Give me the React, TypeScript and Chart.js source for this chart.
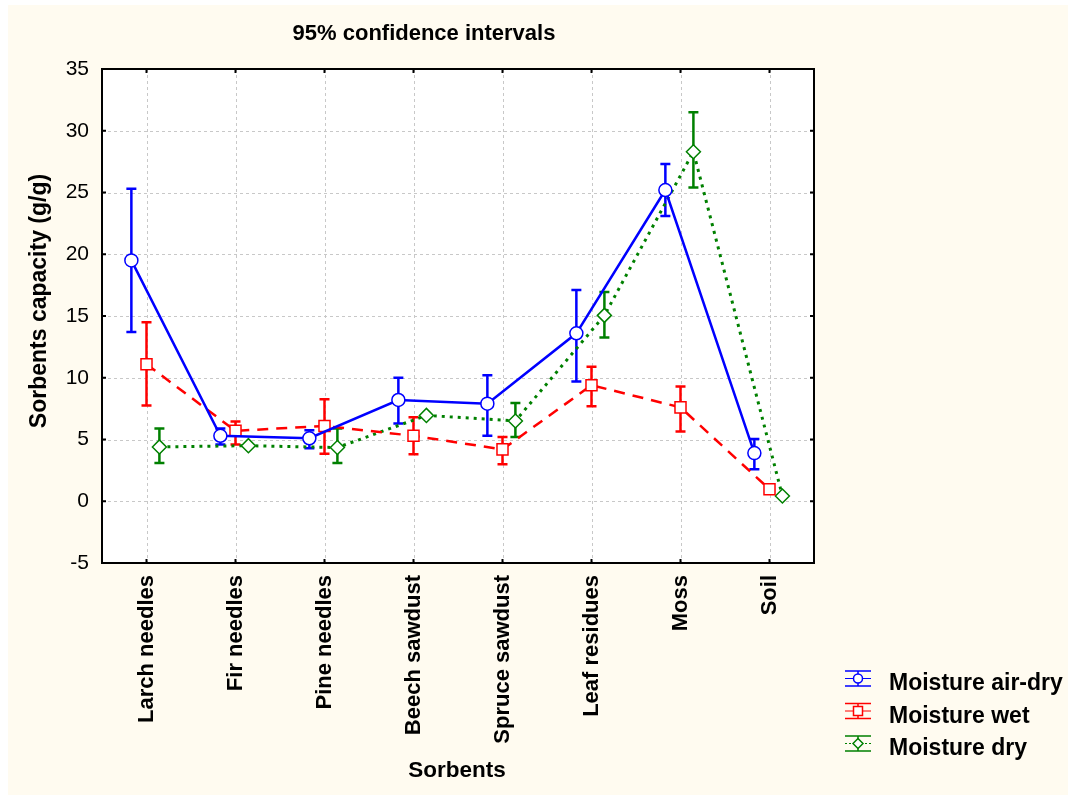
import React, { useEffect, useRef } from "react";
import { Chart, registerables } from "chart.js";

Chart.register(...registerables);

const categories = [
  "Larch needles",
  "Fir needles",
  "Pine needles",
  "Beech sawdust",
  "Spruce sawdust",
  "Leaf residues",
  "Moss",
  "Soil",
];
const seriesNames = ["Moisture air-dry", "Moisture wet", "Moisture dry"];

const airDryMean = [19.5, 5.3, 5.1, 8.2, 7.9, 13.6, 25.2, 3.9];
const airDryLow = [13.7, 4.6, 4.3, 6.3, 5.3, 9.7, 23.1, 2.6];
const airDryHigh = [25.3, 5.9, 5.75, 10.0, 10.2, 17.1, 27.3, 5.05];

const wetMean = [11.1, 5.7, 6.1, 5.3, 4.2, 9.4, 7.6, 0.97];
const wetLow = [7.75, 4.6, 3.85, 3.8, 3.0, 7.7, 5.65, null];
const wetHigh = [14.5, 6.45, 8.25, 6.8, 5.2, 10.9, 9.3, null];

const dryMean = [4.4, 4.5, 4.35, 6.95, 6.5, 15.05, 28.3, 0.43];
const dryLow = [3.1, null, 3.1, null, 5.2, 13.25, 25.4, null];
const dryHigh = [5.9, null, 5.9, null, 7.95, 16.95, 31.5, null];

const yMin = -5;
const yMax = 35;
const yStep = 5;

const seriesOffsets = [-0.17, 0, 0.145];
const colors = ["#0000FF", "#FF0000", "#008000"];
const dashes = [[], [11, 8], [3, 5]];
const pointStyles = ["circle", "rect", "rectRot"];
const pointRadii = [6.5, 7.8, 7];

const CREAM = "#FFFBF0";
const FONT = "'Liberation Sans', Arial, sans-serif";

const means = [airDryMean, wetMean, dryMean];
const lows = [airDryLow, wetLow, dryLow];
const highs = [airDryHigh, wetHigh, dryHigh];

export default function App() {
  const canvasRef = useRef<HTMLCanvasElement | null>(null);

  useEffect(() => {
    const canvas = canvasRef.current;
    if (!canvas) return;

    const datasets = means.map((m, s) => ({
      label: seriesNames[s],
      data: m.map((v, i) => ({ x: i + seriesOffsets[s], y: v })),
      borderColor: colors[s],
      backgroundColor: "#FFFFFF",
      borderWidth: s === 2 ? 3 : 2.5,
      borderDash: dashes[s],
      pointStyle: pointStyles[s],
      pointRadius: pointRadii[s],
      pointBorderWidth: 1.5,
      pointBorderColor: colors[s],
      pointBackgroundColor: "#FFFFFF",
      tension: 0,
      clip: false as any,
    }));

    const customPlugin = {
      id: "customDecor",
      beforeDraw(chart: any) {
        const { ctx, width, height, chartArea: a } = chart;
        ctx.save();
        ctx.fillStyle = CREAM;
        ctx.fillRect(0, 0, width, height);
        ctx.fillStyle = "#FFFFFF";
        ctx.fillRect(a.left, a.top, a.right - a.left, a.bottom - a.top);
        const xs = chart.scales.x;
        const ys = chart.scales.y;
        ctx.strokeStyle = "#C8C8C8";
        ctx.lineWidth = 1;
        ctx.setLineDash([3, 3]);
        for (let v = yMin + yStep; v < yMax; v += yStep) {
          const y = Math.round(ys.getPixelForValue(v)) + 0.5;
          ctx.beginPath();
          ctx.moveTo(a.left, y);
          ctx.lineTo(a.right, y);
          ctx.stroke();
        }
        categories.forEach((_, i) => {
          const x = Math.round(xs.getPixelForValue(i)) + 0.5;
          ctx.beginPath();
          ctx.moveTo(x, a.top);
          ctx.lineTo(x, a.bottom);
          ctx.stroke();
        });
        ctx.restore();
      },
      beforeDatasetsDraw(chart: any) {
        const { ctx } = chart;
        const xs = chart.scales.x;
        const ys = chart.scales.y;
        ctx.save();
        ctx.setLineDash([]);
        ctx.lineWidth = 2.5;
        means.forEach((m, s) => {
          ctx.strokeStyle = colors[s];
          m.forEach((_, i) => {
            const lo = lows[s][i];
            const hi = highs[s][i];
            if (lo == null || hi == null) return;
            const x = xs.getPixelForValue(i + seriesOffsets[s]);
            const y1 = ys.getPixelForValue(lo);
            const y2 = ys.getPixelForValue(hi);
            ctx.beginPath();
            ctx.moveTo(x, y1);
            ctx.lineTo(x, y2);
            ctx.moveTo(x - 5, y1);
            ctx.lineTo(x + 5, y1);
            ctx.moveTo(x - 5, y2);
            ctx.lineTo(x + 5, y2);
            ctx.stroke();
          });
        });
        ctx.restore();
      },
      afterDraw(chart: any) {
        const { ctx, chartArea: a } = chart;
        const xs = chart.scales.x;
        const ys = chart.scales.y;
        ctx.save();
        ctx.setLineDash([]);
        ctx.strokeStyle = "#000000";
        ctx.lineWidth = 2;
        ctx.strokeRect(a.left, a.top, a.right - a.left, a.bottom - a.top);
        for (let v = yMin; v <= yMax; v += yStep) {
          const y = ys.getPixelForValue(v);
          ctx.beginPath();
          ctx.moveTo(a.left, y);
          ctx.lineTo(a.left + 4, y);
          ctx.moveTo(a.right, y);
          ctx.lineTo(a.right - 4, y);
          ctx.stroke();
        }
        categories.forEach((_, i) => {
          const x = xs.getPixelForValue(i);
          ctx.beginPath();
          ctx.moveTo(x, a.top);
          ctx.lineTo(x, a.top + 4);
          ctx.moveTo(x, a.bottom);
          ctx.lineTo(x, a.bottom - 4);
          ctx.stroke();
        });

        ctx.fillStyle = "#000000";
        ctx.font = `bold 22px ${FONT}`;
        ctx.textAlign = "center";
        ctx.textBaseline = "middle";
        ctx.fillText("95% confidence intervals", 416, 29);

        ctx.font = `bold 22.5px ${FONT}`;
        ctx.fillText("Sorbents", 449, 766);

        ctx.save();
        ctx.translate(32, 296);
        ctx.rotate(-Math.PI / 2);
        ctx.font = `bold 23px ${FONT}`;
        ctx.fillText("Sorbents capacity (g/g)", 0, 0);
        ctx.restore();

        seriesNames.forEach((name, s) => {
          const cy = 679 + s * 32.5;
          const iy = cy - 5.5;
          const x0 = 837;
          const x1 = 863;
          const xc = (x0 + x1) / 2;
          ctx.strokeStyle = colors[s];
          ctx.lineWidth = 1.5;
          ctx.setLineDash([]);
          ctx.beginPath();
          ctx.moveTo(x0, iy - 7.5);
          ctx.lineTo(x1, iy - 7.5);
          ctx.moveTo(x0, iy + 7.5);
          ctx.lineTo(x1, iy + 7.5);
          ctx.moveTo(xc, iy - 7.5);
          ctx.lineTo(xc, iy + 7.5);
          ctx.stroke();
          ctx.lineWidth = 1;
          ctx.setLineDash(s === 2 ? [2, 2] : []);
          ctx.beginPath();
          ctx.moveTo(x0, iy);
          ctx.lineTo(x1, iy);
          ctx.stroke();
          ctx.setLineDash([]);
          ctx.fillStyle = "#FFFFFF";
          ctx.lineWidth = 1.5;
          ctx.beginPath();
          if (s === 0) {
            ctx.arc(xc, iy, 4.5, 0, Math.PI * 2);
          } else if (s === 1) {
            ctx.rect(xc - 4.5, iy - 4.5, 9, 9);
          } else {
            ctx.moveTo(xc - 5, iy);
            ctx.lineTo(xc, iy - 5);
            ctx.lineTo(xc + 5, iy);
            ctx.lineTo(xc, iy + 5);
            ctx.closePath();
          }
          ctx.fill();
          ctx.stroke();

          ctx.fillStyle = "#000000";
          ctx.font = `bold 23px ${FONT}`;
          ctx.textAlign = "left";
          ctx.textBaseline = "middle";
          ctx.fillText(name, 881, cy);
        });
        ctx.restore();
      },
    };

    const chart = new Chart(canvas, {
      type: "line",
      data: { datasets: datasets as any },
      options: {
        animation: false,
        responsive: false,
        maintainAspectRatio: false,
        layout: { padding: { left: 0, top: 64, right: 254, bottom: 0 } },
        plugins: {
          legend: { display: false },
          title: { display: false },
          tooltip: { enabled: false },
        },
        scales: {
          x: {
            type: "linear",
            min: -0.5,
            max: 7.5,
            grid: { display: false, drawTicks: false },
            border: { display: false },
            afterBuildTicks: (scale: any) => {
              scale.ticks = categories.map((_, i) => ({ value: i }));
            },
            afterFit: (scale: any) => {
              scale.height = 232;
            },
            ticks: {
              autoSkip: false,
              minRotation: 90,
              maxRotation: 90,
              padding: 12,
              color: "#000000",
              font: { family: FONT, size: 22, weight: "bold" },
              callback: (v: any) => categories[Math.round(Number(v))] ?? "",
            },
          },
          y: {
            type: "linear",
            min: yMin,
            max: yMax,
            grid: { display: false, drawTicks: false },
            border: { display: false },
            afterFit: (scale: any) => {
              scale.width = 94;
            },
            ticks: {
              stepSize: yStep,
              padding: 13,
              color: "#000000",
              font: { family: FONT, size: 21 },
            },
          },
        },
      },
      plugins: [customPlugin],
    });

    return () => chart.destroy();
  }, []);

  return (
    <div
      style={{
        position: "absolute",
        left: 8,
        top: 5,
        width: 1060,
        height: 790,
        background: CREAM,
      }}
    >
      <canvas ref={canvasRef} width={1060} height={790} style={{ display: "block" }} />
    </div>
  );
}
